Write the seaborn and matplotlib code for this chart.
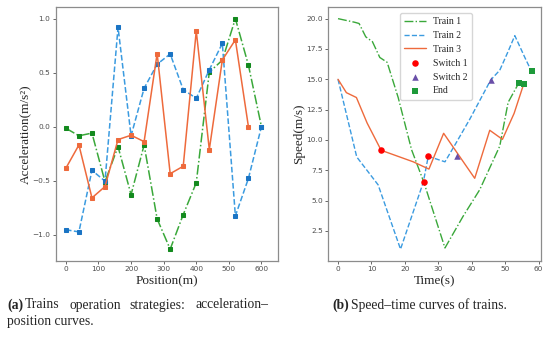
import numpy as np
import pandas as pd
import seaborn as sns
import matplotlib.pyplot as plt

# (a) acceleration vs position, one value every 40 m
pos_t1 = [0, 40, 80, 120, 160, 200, 240, 280, 320, 360, 400, 440, 480, 520, 560, 600]
acc_t1 = [-0.015, -0.085, -0.06, -0.51, -0.185, -0.63, -0.17, -0.855, -1.135, -0.815, -0.52, 0.505, 0.615, 1.0, 0.57, 0.0]
pos_t2 = [0, 40, 80, 120, 160, 200, 240, 280, 320, 360, 400, 440, 480, 520, 560, 600]
acc_t2 = [-0.955, -0.975, -0.405, -0.505, 0.92, -0.085, 0.355, 0.578, 0.673, 0.343, 0.262, 0.526, 0.771, -0.827, -0.48, 0.0]
pos_t3 = [0, 40, 80, 120, 160, 200, 240, 280, 320, 360, 400, 440, 480, 520, 560]
acc_t3 = [-0.385, -0.17, -0.66, -0.555, -0.12, -0.08, -0.139, 0.677, -0.436, -0.367, 0.885, -0.212, 0.617, 0.804, 0.0]

# (b) speed vs time
time_t1 = [0, 5, 6.3, 8.3, 10.3, 12.5, 14.7, 18, 22, 25.7, 32, 37.4, 42.4, 48.4, 50.9, 54.1]
spd_t1 = [20, 19.7, 19.6, 18.5, 18.1, 16.8, 16.4, 13.5, 9.2, 6.5, 1.1, 3.7, 5.9, 9.5, 13.1, 14.7]
time_t2 = [0, 5.6, 12, 18.7, 25.5, 27, 32, 35, 39.4, 45.7, 48.4, 50.9, 52.9, 55.9, 57.9]
spd_t2 = [15, 8.6, 6.3, 1.0, 6.5, 8.65, 8.2, 9.6, 11.7, 14.95, 15.75, 17.3, 18.6, 16.8, 15.65]
time_t3 = [0, 2.5, 5.5, 8.7, 12.9, 22.5, 27.2, 31.6, 40.9, 45.4, 49.2, 52.7, 55.6]
spd_t3 = [15, 13.9, 13.5, 11.4, 9.15, 8.2, 7.6, 10.55, 6.84, 10.8, 10.05, 12.2, 14.65]

switch1_t = [12.9, 25.7, 26.9]
switch1_v = [9.15, 6.5, 8.65]
switch2_t = [35.6, 45.7]
switch2_v = [8.7, 14.95]
end_t = [54.1, 55.6, 57.9]
end_v = [14.7, 14.65, 15.65]

sns.set_style("white", {"axes.edgecolor": "0.55"})
plt.rcParams['font.family'] = ['DejaVu Sans']
SERIF = ['Liberation Serif', 'DejaVu Serif']

green_line, green_mark = '#3aa83a', '#138a1e'
blue_line, blue_mark = '#3b9be0', '#1a74c4'
orange = '#ee6a3c'

fig = plt.figure(figsize=(5.5, 3.39), dpi=100)
ax1 = fig.add_axes([0.102, 0.231, 0.403, 0.748])
ax2 = fig.add_axes([0.597, 0.231, 0.387, 0.748])

sns.lineplot(x=pos_t1, y=acc_t1, ax=ax1, color=green_line, linestyle='-.', lw=1.1,
             marker='s', markersize=3.5, markerfacecolor=green_mark, markeredgecolor=green_mark)
sns.lineplot(x=pos_t2, y=acc_t2, ax=ax1, color=blue_line, linestyle='--', lw=1.1,
             marker='s', markersize=3.5, markerfacecolor=blue_mark, markeredgecolor=blue_mark)
sns.lineplot(x=pos_t3, y=acc_t3, ax=ax1, color=orange, linestyle='-', lw=1.1,
             marker='s', markersize=3.5, markerfacecolor=orange, markeredgecolor=orange)
ax1.set_xlim(-30, 650)
ax1.set_xticks(range(0, 601, 100))
ax1.set_yticks([-1.0, -0.5, 0.0, 0.5, 1.0])
ax1.set_xlabel('Position(m)', family=SERIF, fontsize=9.5, labelpad=2)
ax1.set_ylabel('Acceleration(m/s²)', family=SERIF, fontsize=9.5, labelpad=1)

sns.lineplot(x=time_t1, y=spd_t1, ax=ax2, color=green_line, linestyle='-.', lw=1.0, label='Train 1')
sns.lineplot(x=time_t2, y=spd_t2, ax=ax2, color=blue_line, linestyle='--', lw=1.0, label='Train 2')
sns.lineplot(x=time_t3, y=spd_t3, ax=ax2, color=orange, linestyle='-', lw=1.0, label='Train 3')
sns.scatterplot(x=switch1_t, y=switch1_v, ax=ax2, color='red', marker='o', s=22, linewidth=0,
                label='Switch 1', zorder=5)
sns.scatterplot(x=switch2_t, y=switch2_v, ax=ax2, color='#6a4fa8', marker='^', s=22, linewidth=0,
                label='Switch 2', zorder=5)
sns.scatterplot(x=end_t, y=end_v, ax=ax2, color='#1e9a3a', marker='s', s=18, linewidth=0,
                label='End', zorder=5)
ax2.set_xticks(range(0, 61, 10))
ax2.set_yticks([2.5, 5.0, 7.5, 10.0, 12.5, 15.0, 17.5, 20.0])
ax2.set_xlabel('Time(s)', family=SERIF, fontsize=9.5, labelpad=2)
ax2.set_ylabel('Speed(m/s)', family=SERIF, fontsize=9.5, labelpad=1)
ax2.legend(loc='upper center', bbox_to_anchor=(0.505, 0.997), prop={'family': SERIF, 'size': 7},
           frameon=True, handlelength=2.3, handletextpad=0.7, labelspacing=0.5, borderpad=0.45)

for ax in (ax1, ax2):
    ax.tick_params(labelsize=5.3, colors='0.3', length=2, width=0.6, pad=2)
    ax.tick_params(axis='both', which='both', bottom=True, left=True)
    for sp in ax.spines.values():
        sp.set_linewidth(0.9)

# captions; the first line of (a) is justified between x=7 and x=268 px
cap = dict(family=SERIF, fontsize=9.8, va='center', color='0.15')
W, H = 550, 339
words = [('(a)', 'bold'), ('Trains', 'normal'), ('operation', 'normal'),
         ('strategies:', 'normal'), ('acceleration–', 'normal')]
texts = [fig.text(0, 1 - 305 / H, w, weight=wt, **cap) for w, wt in words]
renderer = fig.canvas.get_renderer()
widths = [t.get_window_extent(renderer).width for t in texts]
first_gap = 2
gap = (268 - 7 - sum(widths) - first_gap) / 3
x = 7
for i, t in enumerate(texts):
    t.set_x(x / W)
    x += widths[i] + (first_gap if i == 0 else gap)
fig.text(7 / W, 1 - 321 / H, 'position curves.', **cap)
tb = fig.text(332 / W, 1 - 305 / H, '(b)', weight='bold', **cap)
wb = tb.get_window_extent(renderer).width
fig.text((332 + wb + 2) / W, 1 - 305 / H, 'Speed–time curves of trains.', **cap)

fig.savefig('out.png', dpi=100)
